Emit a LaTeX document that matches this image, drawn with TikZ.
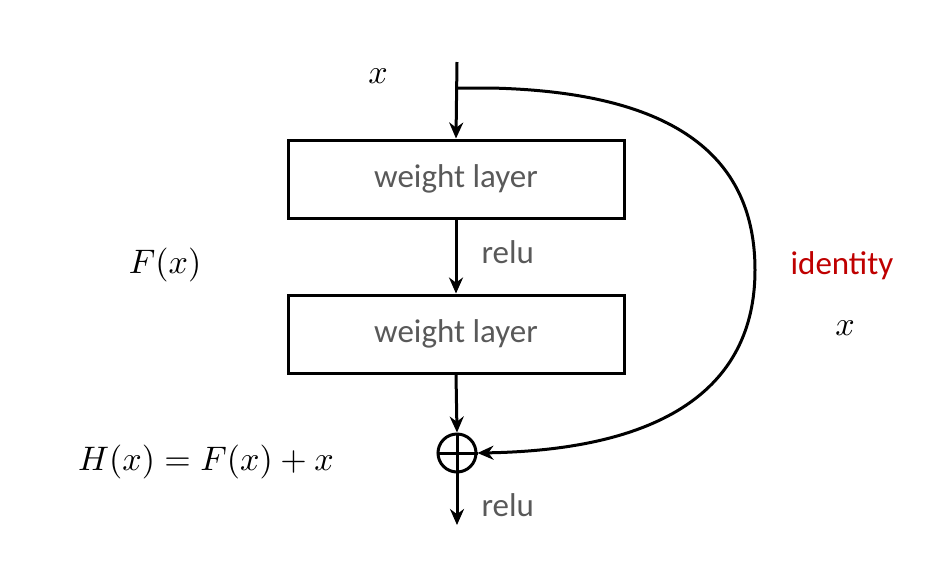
\documentclass[tikz,border=0pt]{standalone}
\usepackage{fontspec}
\newfontfamily\carl{Carlito}
\usetikzlibrary{arrows.meta}
\begin{document}
\begin{tikzpicture}[x=1pt,y=-1pt,
  box/.style={draw,line width=3pt,minimum width=336pt,minimum height=78pt,inner sep=0pt,font=\carl\fontsize{33}{38}\selectfont,text=black!65},
  lab/.style={font=\carl\fontsize{33}{38}\selectfont,text=black!65},
  mth/.style={scale=3.4},
  conn/.style={line width=3pt,-{Stealth[length=16pt,width=14pt]}}]
\useasboundingbox (0,0) rectangle (946,574);
\coordinate (top) at (457,62);
\coordinate (split) at (457,88);
\node[box] (w1) at (456,179) {weight layer};
\node[box] (w2) at (456,334) {weight layer};
\node[draw,circle,line width=3pt,minimum size=38pt,inner sep=0pt] (sum) at (457,453) {};
\draw[line width=3pt] (sum.north) -- (sum.south) (sum.west) -- (sum.east);
\coordinate (out) at (457,525);
\draw[conn] (top) -- (w1.north);
\draw[conn] (w1.south) -- (w2.north);
\draw[conn] (w2.south) -- (sum.north);
\draw[conn] (sum.south) -- (out);
\draw[conn] (split) -- (490,88) .. controls (680,92) and (755,160) .. (755,270)
  .. controls (755,390) and (660,450) .. (sum.east);
\node[mth] (x1) at (378,76) {$x$};
\node[mth] (fx) at (165,265) {$F(x)$};
\node[lab,anchor=west] (r1) at (478,252) {relu};
\node[lab,text=red!75!black] (id) at (842,266) {identity};
\node[mth] (x2) at (845,328) {$x$};
\node[mth] (hx) at (206,462) {$H(x)=F(x)+x$};
\node[lab,anchor=west] (r2) at (478,505) {relu};
\end{tikzpicture}
\end{document}
